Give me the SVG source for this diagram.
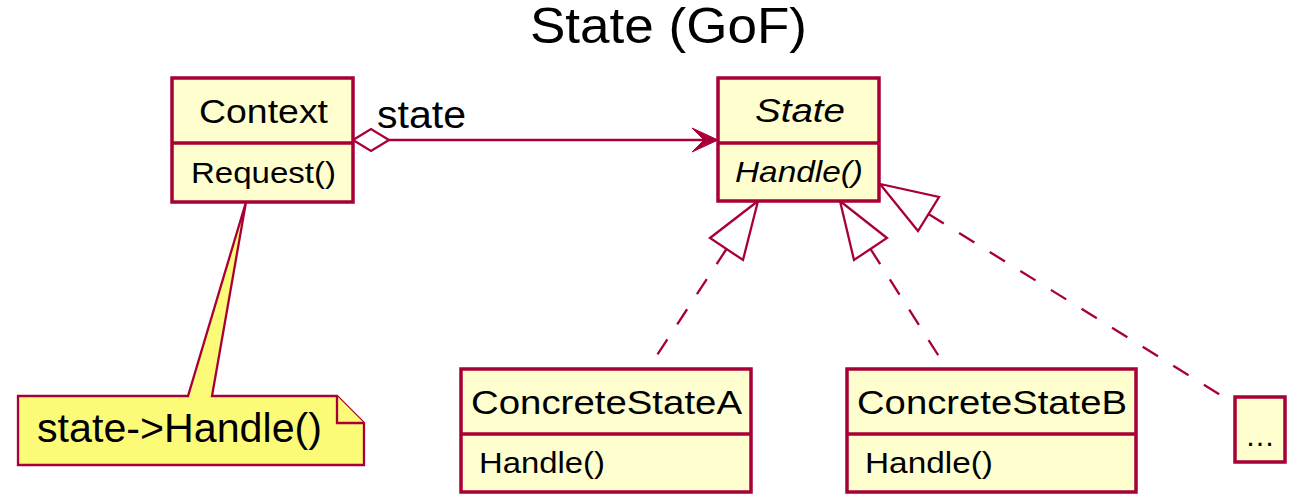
<svg xmlns="http://www.w3.org/2000/svg" width="1295" height="497" viewBox="0 0 1295 497">
<style>
  .box { fill: #FEFECE; stroke: #A80036; stroke-width: 3.5; }
  .div { stroke: #A80036; stroke-width: 3.5; }
  .note { fill: #FBFB77; stroke: #A80036; stroke-width: 2.3; stroke-linejoin: miter; }
  .line { fill: none; stroke: #A80036; stroke-width: 2.3; }
  .dash { fill: none; stroke: #A80036; stroke-width: 2.3; stroke-dasharray: 18 18; }
  .tri { fill: none; stroke: #A80036; stroke-width: 2.3; stroke-linejoin: miter; }
  .head { fill: #A80036; stroke: #A80036; stroke-width: 1; }
  .dia { fill: #FFFFFF; stroke: #A80036; stroke-width: 2.3; }
  text { font-family: "Liberation Sans", Arial, sans-serif; fill: #000000; }
  .name { font-size: 33px; }
  .mem { font-size: 30px; }
  .it { font-style: italic; }
</style>
<rect width="1295" height="497" fill="#FFFFFF"/>
<text x="530" y="43" font-size="50" textLength="277" lengthAdjust="spacingAndGlyphs">State (GoF)</text>

<g id="connectors">
  <line class="line" x1="389" y1="140" x2="708" y2="140"/>
  <polygon class="head" points="718,140 692,128 704,140 692,152"/>
  <polygon class="dia" points="353,140 371,129 389,140 371,151"/>
  <text x="377" y="128" font-size="38" textLength="89" lengthAdjust="spacingAndGlyphs">state</text>

  <line class="dash" x1="726.5" y1="249" x2="648" y2="369"/>
  <polygon class="tri" points="758,201 710,238 743,260"/>

  <line class="dash" x1="870.5" y1="249" x2="947" y2="369"/>
  <polygon class="tri" points="840,201 854,260 887,238"/>

  <line class="dash" x1="928.5" y1="214" x2="1235" y2="404"/>
  <polygon class="tri" points="880,184 918,231 939,197"/>
</g>

<g id="note">
  <path class="note" d="M18,396 L188,396 L246,202 L212,396 L337,396 L364,423 L364,465 L18,465 Z"/>
  <path class="note" d="M337,396 L337,423 L364,423"/>
  <text x="37" y="442" font-size="40" textLength="285" lengthAdjust="spacingAndGlyphs">state-&gt;Handle()</text>
</g>

<g id="Context">
  <rect class="box" x="172" y="78" width="181" height="124"/>
  <line class="div" x1="172" y1="143" x2="353" y2="143"/>
  <text class="name" x="199" y="123" textLength="129" lengthAdjust="spacingAndGlyphs">Context</text>
  <text class="mem" x="191" y="183" textLength="145" lengthAdjust="spacingAndGlyphs">Request()</text>
</g>

<g id="State">
  <rect class="box" x="718" y="78" width="161" height="123"/>
  <line class="div" x1="718" y1="143" x2="879" y2="143"/>
  <text class="name it" x="755" y="122" textLength="90" lengthAdjust="spacingAndGlyphs">State</text>
  <text class="mem it" x="735" y="182" textLength="128" lengthAdjust="spacingAndGlyphs">Handle()</text>
</g>

<g id="ConcreteStateA">
  <rect class="box" x="461" y="369" width="290" height="123"/>
  <line class="div" x1="461" y1="434" x2="751" y2="434"/>
  <text class="name" x="471" y="414" textLength="271" lengthAdjust="spacingAndGlyphs">ConcreteStateA</text>
  <text class="mem" x="479" y="473" textLength="126" lengthAdjust="spacingAndGlyphs">Handle()</text>
</g>

<g id="ConcreteStateB">
  <rect class="box" x="847" y="369" width="289" height="123"/>
  <line class="div" x1="847" y1="434" x2="1136" y2="434"/>
  <text class="name" x="857" y="414" textLength="270" lengthAdjust="spacingAndGlyphs">ConcreteStateB</text>
  <text class="mem" x="865" y="473" textLength="128" lengthAdjust="spacingAndGlyphs">Handle()</text>
</g>

<g id="Ellipsis">
  <rect class="box" x="1235" y="397" width="50" height="65"/>
  <text class="mem" x="1245" y="446">…</text>
</g>
</svg>
